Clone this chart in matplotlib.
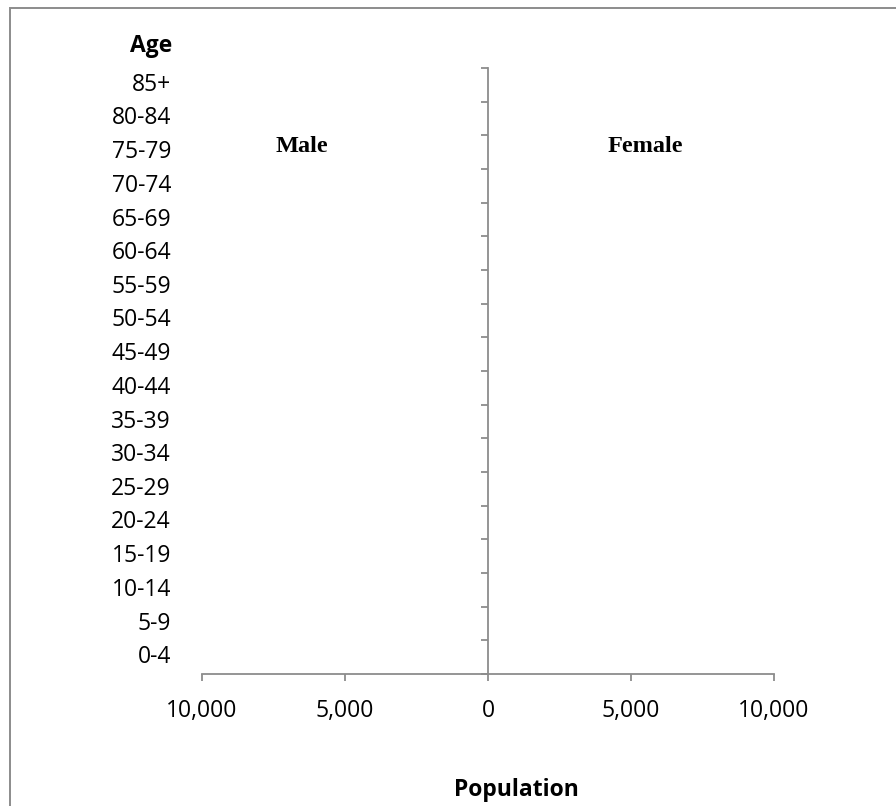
import numpy as np
import matplotlib
matplotlib.use('Agg')
import matplotlib.pyplot as plt
from matplotlib.patches import Rectangle
from matplotlib.ticker import FuncFormatter
from matplotlib.transforms import blended_transform_factory

# age groups, bottom to top
age_groups = ['0-4', '5-9', '10-14', '15-19', '20-24', '25-29', '30-34', '35-39',
              '40-44', '45-49', '50-54', '55-59', '60-64', '65-69', '70-74', '75-79',
              '80-84', '85+']
# the chart has no visible bars
male_pop = [0] * len(age_groups)
female_pop = [0] * len(age_groups)
x_ticks = [-10000, -5000, 0, 5000, 10000]

axis_col = '#8c8c8c'
W, H = 896, 806

fig = plt.figure(figsize=(W / 100, H / 100), dpi=100)
ax = fig.add_axes([202 / W, 1 - 674 / H, 572 / W, 606 / H])

y = np.arange(len(age_groups)) + 0.5
ax.barh(y, [-v for v in male_pop], height=1.0, color='#4f81bd', linewidth=0)
ax.barh(y, female_pop, height=1.0, color='#c0504d', linewidth=0)

ax.set_xlim(-10000, 10000)
ax.set_ylim(0, len(age_groups))

for s in ['top', 'right']:
    ax.spines[s].set_visible(False)
ax.spines['left'].set_position(('data', 0))
for s in ['left', 'bottom']:
    ax.spines[s].set_color(axis_col)
    ax.spines[s].set_linewidth(1.3)

ax.set_yticks(np.arange(len(age_groups) + 1))
ax.set_yticklabels([])
ax.tick_params(axis='y', direction='out', length=5, width=1.3, color=axis_col)

ax.set_xticks(x_ticks)
ax.xaxis.set_major_formatter(FuncFormatter(lambda v, p: '{:,.0f}'.format(abs(v))))
ax.tick_params(axis='x', direction='out', length=5, width=1.3, color=axis_col,
               pad=13, labelsize=16.5)
for lbl in ax.get_xticklabels():
    lbl.set_fontfamily('Open Sans')

# category labels sit far left of the centre axis
tr = blended_transform_factory(fig.transFigure, ax.transData)
for yy, name in zip(y, age_groups):
    ax.text(171 / W, yy, name, transform=tr, ha='right', va='center',
            fontsize=16.5, family='Open Sans')

fig.text(151 / W, 1 - 46 / H, 'Age', ha='center', va='center',
         fontsize=16.5, fontweight='bold', family='Open Sans')
fig.text(516 / W, 1 - 790 / H, 'Population', ha='center', va='center',
         fontsize=16.5, fontweight='bold', family='Open Sans')
fig.text(302 / W, 1 - 146 / H, 'Male', ha='center', va='center',
         fontsize=17.5, fontweight='bold', family='Liberation Serif')
fig.text(645 / W, 1 - 146 / H, 'Female', ha='center', va='center',
         fontsize=17.5, fontweight='bold', family='Liberation Serif')

# chart border (runs off the right and bottom of the image)
fig.patches.append(Rectangle((9.5 / W, -0.1), 1.2, 1.1 - 7.5 / H, transform=fig.transFigure,
                             fill=False, edgecolor=axis_col, linewidth=1.4))

fig.savefig('out.png', dpi=100, facecolor='white')
